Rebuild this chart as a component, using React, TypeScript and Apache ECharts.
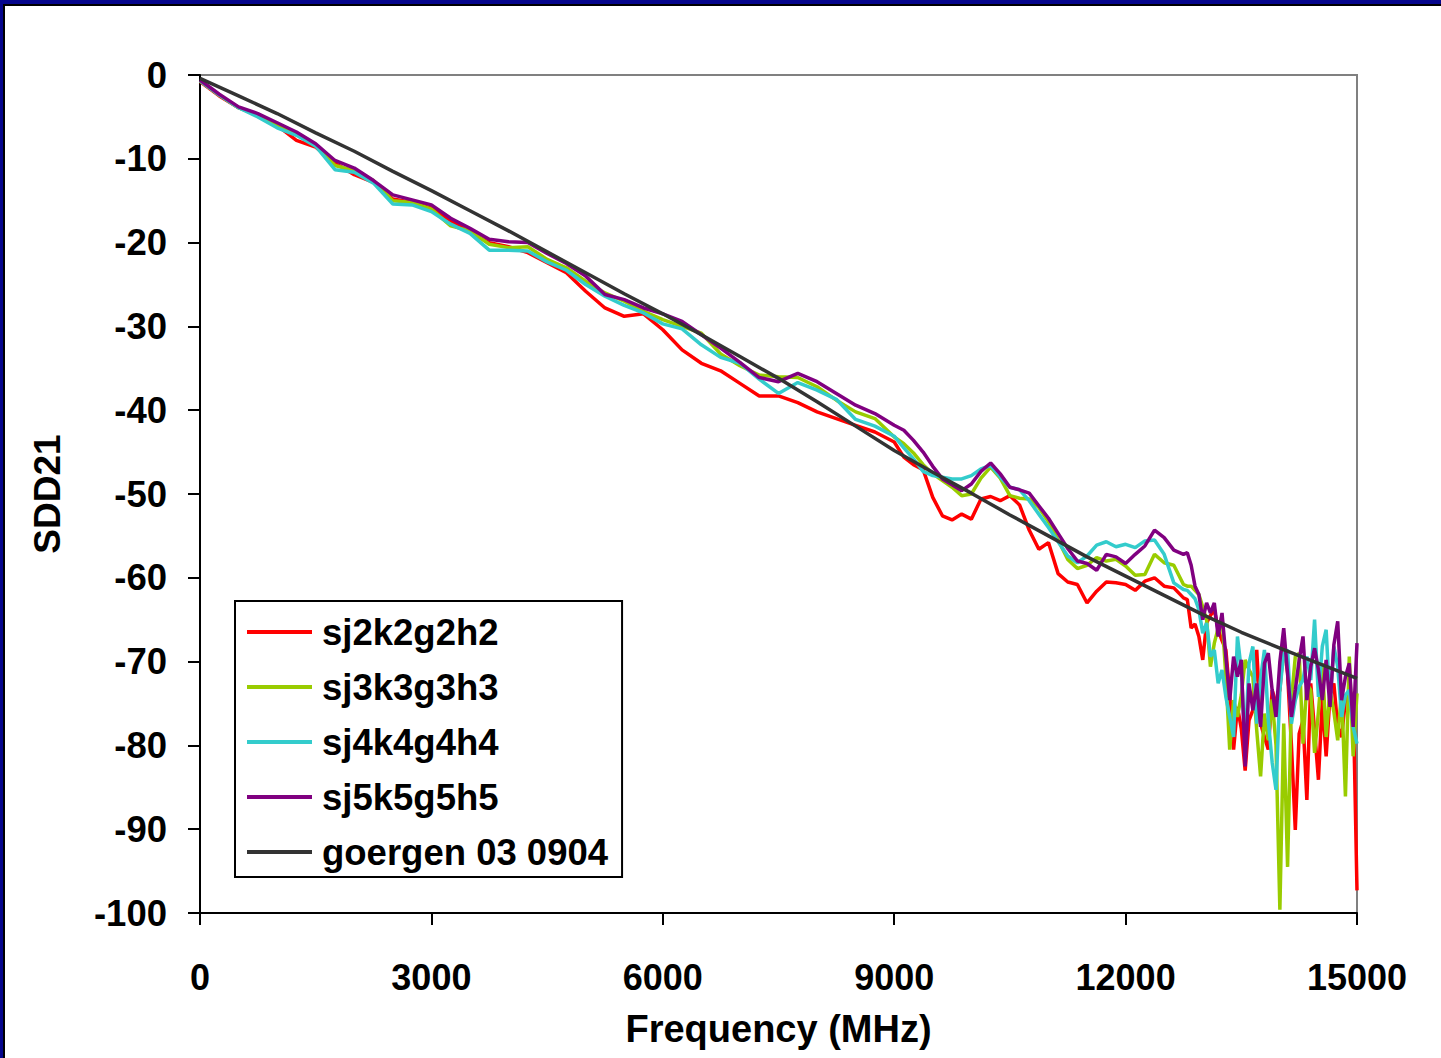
import React, { useEffect, useRef } from "react";
import * as echarts from "echarts";

// ---- frequency grids (MHz) ----
const range = (start: number, end: number, step: number) => {
  const out: number[] = [];
  for (let v = start; v <= end + 1e-9; v += step) out.push(v);
  return out;
};
const FREQ_A = range(0, 9000, 250); // 37 points
const FREQ_B = range(9125, 12750, 125); // 30 points
const FREQ_TAIL = range(12800, 15000, 50); // 45 points
const FREQ_SJ = [...FREQ_A, ...FREQ_B, ...FREQ_TAIL];
const FREQ_GOERGEN = range(0, 15000, 500);

const X_TICKS = [0, 3000, 6000, 9000, 12000, 15000];
const Y_TICKS = [0, -10, -20, -30, -40, -50, -60, -70, -80, -90, -100];

const SERIES_NAMES = ["sj2k2g2h2", "sj3k3g3h3", "sj4k4g4h4", "sj5k5g5h5", "goergen 03 0904"];
const SERIES_COLORS = ["#FF0000", "#99CC00", "#33CCCC", "#800080", "#333333"];

// ---- sj2k2g2h2 (red) ----
const SJ2_A = [-0.8, -2.5, -3.9, -4.8, -6.0, -7.8, -8.6, -10.5, -11.9, -12.8, -14.8, -15.2, -15.9, -17.4, -18.8, -20.0, -20.5, -21.2, -22.4, -23.6, -25.8, -27.8, -28.8, -28.5, -30.4, -32.8, -34.4, -35.3, -36.8, -38.3, -38.3, -39.1, -40.2, -41.0, -41.8, -42.6, -43.8];
const SJ2_B = [-45.6, -46.5, -47.1, -50.4, -52.6, -53.1, -52.4, -53.0, -50.6, -50.3, -50.8, -50.2, -51.3, -54.3, -56.6, -55.8, -59.5, -60.5, -60.8, -63.0, -61.6, -60.5, -60.6, -60.8, -61.5, -60.4, -60.0, -61.0, -61.2, -62.4];
const SJ2_TAIL = [-62.6, -66, -65.5, -67, -69.8, -65.4, -64.5, -63.8, -66.2, -67.5, -68.6, -74, -80.5, -75.4, -78, -83, -77, -75.8, -68.6, -77.4, -79, -80.5, -73.4, -75, -73.4, -67.8, -71.4, -80, -90.1, -78.6, -77, -86.5, -72.6, -78.2, -84.1, -74.6, -81.3, -74, -72.6, -77.8, -79, -74.6, -73.4, -74.2, -97.3];

// ---- sj3k3g3h3 (yellow-green) ----
const SJ3_A = [-0.7, -2.4, -3.9, -4.8, -6.0, -7.0, -8.4, -10.8, -11.4, -12.6, -15.0, -15.2, -16.0, -18.0, -18.6, -20.2, -20.6, -20.5, -22.0, -23.0, -24.6, -26.0, -27.0, -28.2, -29.2, -30.0, -30.8, -33.3, -34.7, -35.8, -36.0, -36.1, -37.2, -38.8, -40.2, -41.0, -43.2];
const SJ3_B = [-44.0, -45.1, -46.5, -47.6, -48.4, -49.2, -50.2, -50.0, -48.1, -46.8, -48.1, -50.2, -50.5, -50.6, -51.6, -53.3, -55.5, -57.8, -58.9, -58.5, -57.6, -58.0, -57.8, -58.6, -59.7, -59.6, -57.2, -58.2, -58.5, -60.8];
const SJ3_TAIL = [-61, -61, -61.5, -62, -63.5, -65, -70.6, -67.8, -66, -64.6, -71.8, -80.5, -74.6, -76.6, -74, -69.8, -71, -71.8, -78.2, -83.7, -76.2, -79.4, -74.5, -80, -99.6, -77.4, -94.5, -74.6, -69.4, -69, -79.8, -72.6, -73.4, -80.9, -76, -70.2, -79, -73.4, -76, -79.4, -73.4, -86.1, -69.4, -81.3, -73.8];

// ---- sj4k4g4h4 (cyan) ----
const SJ4_A = [-0.7, -2.4, -3.9, -5.0, -6.3, -7.2, -8.5, -11.3, -11.6, -12.9, -15.4, -15.5, -16.3, -17.8, -18.9, -20.9, -20.9, -21.0, -22.3, -23.3, -25.0, -26.4, -27.5, -28.4, -29.7, -30.3, -32.2, -33.7, -34.4, -36.3, -38.0, -36.7, -37.6, -38.7, -41.1, -41.9, -43.1];
const SJ4_B = [-44.5, -45.8, -47.3, -47.8, -48.0, -48.2, -48.2, -47.8, -47.0, -46.6, -48.0, -49.2, -49.5, -50.8, -52.4, -54.0, -55.7, -57.4, -58.2, -57.4, -56.1, -55.7, -56.3, -56.0, -56.4, -55.6, -55.5, -57.2, -60.6, -61.4];
const SJ4_TAIL = [-61.5, -62, -62.5, -63.8, -66.6, -65.4, -69.4, -68.6, -72.6, -71, -74.2, -76.6, -79, -67, -71, -79.8, -70.2, -68.2, -77.4, -72, -68.6, -77, -82, -85.3, -73.4, -69, -68.6, -77.4, -74.6, -73, -72.2, -69.4, -72.2, -65, -74.2, -68.2, -66.2, -75, -68.2, -70.6, -76.6, -74, -73.4, -77.8, -79.8];

// ---- sj5k5g5h5 (purple) ----
const SJ5_A = [-0.6, -2.3, -3.8, -4.6, -5.7, -6.8, -8.2, -10.2, -11.1, -12.6, -14.3, -14.9, -15.5, -17.1, -18.3, -19.6, -19.9, -20.0, -21.3, -22.5, -24.0, -26.2, -26.8, -27.8, -28.5, -29.4, -31.0, -32.6, -34.3, -36.1, -36.6, -35.6, -36.6, -38.0, -39.4, -40.4, -41.8];
const SJ5_B = [-42.4, -43.6, -45.0, -46.7, -48.2, -48.9, -49.6, -48.8, -47.3, -46.3, -47.6, -49.2, -49.5, -49.9, -51.4, -52.9, -54.7, -56.5, -58.0, -58.3, -59.1, -57.2, -57.5, -58.3, -57.2, -56.2, -54.3, -55.2, -56.7, -57.2];
const SJ5_TAIL = [-57.0, -58.5, -61, -62, -65, -63, -64.2, -63, -67, -64.2, -69.4, -74.6, -69.4, -71.8, -69.8, -82.5, -72.6, -75.8, -72.6, -77.8, -70.2, -69, -73.4, -76.6, -70, -66, -71.4, -76.6, -73.4, -69.8, -67, -74.6, -70.6, -68.4, -71, -74.6, -69.8, -75.4, -68, -65.2, -74.6, -71.8, -70.2, -77.8, -67.8];

// ---- goergen 03 0904 (dark grey) ----
const GOERGEN = [-0.4, -2.5, -4.6, -6.9, -9.1, -11.5, -13.8, -16.2, -18.6, -21.1, -23.6, -26.1, -28.5, -31.0, -33.6, -36.2, -39.0, -41.9, -44.8, -47.4, -49.9, -52.5, -55.0, -57.5, -59.8, -62.1, -64.4, -66.5, -68.4, -70.2, -72.0];

const zip = (xs: number[], ys: number[]) => {
  const n = Math.min(xs.length, ys.length);
  const out: number[][] = [];
  for (let i = 0; i < n; i++) out.push([xs[i], ys[i]]);
  return out;
};

const SERIES_DATA = [
  zip(FREQ_SJ, [...SJ2_A, ...SJ2_B, ...SJ2_TAIL]),
  zip(FREQ_SJ, [...SJ3_A, ...SJ3_B, ...SJ3_TAIL]),
  zip(FREQ_SJ, [...SJ4_A, ...SJ4_B, ...SJ4_TAIL]),
  zip(FREQ_SJ, [...SJ5_A, ...SJ5_B, ...SJ5_TAIL]),
  zip(FREQ_GOERGEN, GOERGEN),
];

const FONT = '"Liberation Sans", Arial, Helvetica, sans-serif';

export default function App() {
  const ref = useRef<HTMLDivElement>(null);
  useEffect(() => {
    if (!ref.current) return;
    const chart = echarts.init(ref.current, undefined, { renderer: "svg" });
    chart.setOption({
      animation: false,
      backgroundColor: "#FFFFFF",
      grid: {
        left: 200,
        top: 75,
        right: 84,
        bottom: 145,
        show: true,
        borderColor: "#808080",
        borderWidth: 2,
        backgroundColor: "transparent",
      },
      legend: {
        orient: "vertical",
        left: 235,
        top: 601,
        padding: [12, 14, 6, 12],
        itemGap: 17,
        itemWidth: 65,
        itemHeight: 4,
        icon: "rect",
        borderColor: "#000000",
        borderWidth: 2,
        backgroundColor: "#FFFFFF",
        textStyle: {
          fontFamily: FONT,
          fontWeight: "bold",
          fontSize: 36.5,
          color: "#000000",
          lineHeight: 38,
          padding: [0, 0, 0, 5],
        },
        data: SERIES_NAMES,
      },
      xAxis: {
        type: "value",
        min: X_TICKS[0],
        max: X_TICKS[X_TICKS.length - 1],
        interval: 3000,
        name: "Frequency (MHz)",
        nameLocation: "middle",
        nameGap: 97,
        nameTextStyle: { fontFamily: FONT, fontWeight: "bold", fontSize: 38, color: "#000000" },
        axisLine: { show: true, onZero: false, lineStyle: { color: "#000000", width: 2 } },
        axisTick: { show: true, inside: false, length: 12, lineStyle: { color: "#000000", width: 2 } },
        splitLine: { show: false },
        axisLabel: {
          margin: 46,
          fontFamily: FONT,
          fontWeight: "bold",
          fontSize: 36,
          color: "#000000",
          formatter: (v: number) => String(v),
        },
      },
      yAxis: {
        type: "value",
        min: Y_TICKS[Y_TICKS.length - 1],
        max: Y_TICKS[0],
        interval: 10,
        name: "SDD21",
        nameLocation: "middle",
        nameGap: 134,
        nameRotate: 90,
        nameTextStyle: { fontFamily: FONT, fontWeight: "bold", fontSize: 37, color: "#000000" },
        axisLine: { show: true, onZero: false, lineStyle: { color: "#000000", width: 2 } },
        axisTick: { show: true, inside: false, length: 12, lineStyle: { color: "#000000", width: 2 } },
        splitLine: { show: false },
        axisLabel: {
          margin: 33,
          fontFamily: FONT,
          fontWeight: "bold",
          fontSize: 36.5,
          color: "#000000",
        },
      },
      series: SERIES_NAMES.map((name, i) => ({
        name,
        type: "line",
        data: SERIES_DATA[i],
        showSymbol: false,
        symbol: "none",
        color: SERIES_COLORS[i],
        lineStyle: { color: SERIES_COLORS[i], width: 3.5 },
        z: 2 + i,
      })),
      graphic: [
        { type: "rect", left: 0, top: 0, shape: { x: 0, y: 0, width: 1441, height: 4 }, style: { fill: "#06068C" }, z: 100 },
        { type: "rect", left: 0, top: 4, shape: { x: 0, y: 0, width: 1441, height: 2 }, style: { fill: "#000000" }, z: 100 },
        { type: "rect", left: 0, top: 0, shape: { x: 0, y: 0, width: 3, height: 1058 }, style: { fill: "#06068C" }, z: 100 },
        { type: "rect", left: 3, top: 4, shape: { x: 0, y: 0, width: 2, height: 1054 }, style: { fill: "#000000" }, z: 100 },
      ],
    });
    return () => chart.dispose();
  }, []);
  return (
    <div
      ref={ref}
      style={{ position: "fixed", left: 0, top: 0, width: 1441, height: 1058, background: "#FFFFFF" }}
    />
  );
}
